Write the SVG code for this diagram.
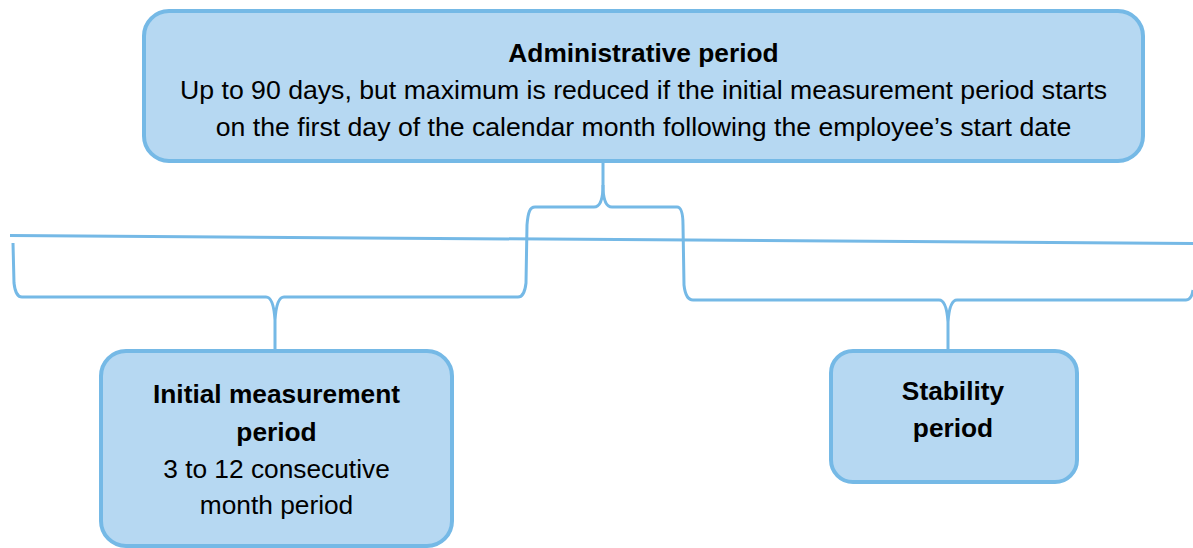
<svg xmlns="http://www.w3.org/2000/svg" width="1193" height="548" viewBox="0 0 1193 548">
<style>
.box{fill:#B6D8F2;stroke:#75B9E6;stroke-width:4}
.conn{fill:none;stroke:#75B9E6;stroke-width:3;stroke-linejoin:round}
text{font-family:"Liberation Sans",Arial,sans-serif;font-size:26.3px;fill:#000;text-anchor:middle}
.b{font-weight:bold}
.w{font-size:26.65px}
</style>
<rect width="1193" height="548" fill="#ffffff"/>
<g id="connectors">
<path class="conn" d="M 10 235.5 L 1193 243.5"/>
<path class="conn" d="M 13 243 L 14 283 C 15 292, 17 297, 22 297 L 266 297 C 271 297, 274 305, 275 320 L 275 351 M 275 320 C 276 305, 279 297, 284 297 L 518 297 C 523 297, 525 292, 526 283 L 527 225 C 528 212, 530 207, 535 207 L 594 207 C 600 207, 603 200, 603 185 L 603 162"/>
<path class="conn" d="M 603 185 C 603 200, 606 207, 612 207 L 677 207 C 681 207, 683 212, 683 225 L 684 285 C 685 294, 687 300, 693 300 L 939 300 C 944 300, 947 308, 948 322 L 948 351 M 948 322 C 949 308, 952 300, 957 300 L 1186 300 C 1190 300, 1192 297, 1193 290"/>
</g>
<g id="administrative">
<rect class="box" x="144" y="11" width="999" height="150" rx="25" ry="25"/>
<text class="b" x="643.5" y="61.5">Administrative period</text>
<text class="w" x="643.5" y="99">Up to 90 days, but maximum is reduced if the initial measurement period starts</text>
<text class="w" x="643.5" y="136">on the first day of the calendar month following the employee’s start date</text>
</g>
<g id="initial">
<rect class="box" x="101" y="351" width="351" height="195" rx="25" ry="25"/>
<text class="b" x="276.5" y="403">Initial measurement</text>
<text class="b" x="276.5" y="440.5">period</text>
<text x="276.5" y="477.5">3 to 12 consecutive</text>
<text x="276.5" y="513.5">month period</text>
</g>
<g id="stability">
<rect class="box" x="831" y="351" width="246" height="131" rx="22" ry="22"/>
<text class="b" x="953" y="400">Stability</text>
<text class="b" x="953" y="437">period</text>
</g>
</svg>
